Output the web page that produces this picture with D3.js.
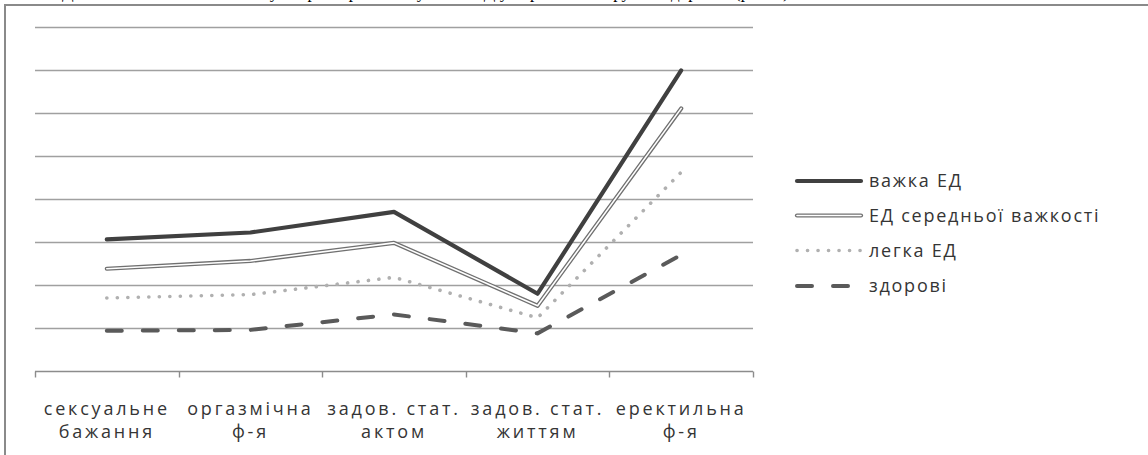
<!DOCTYPE html>
<html>
<head>
<meta charset="utf-8">
<script src="https://cdn.jsdelivr.net/npm/d3@7"></script>
<style>
  html, body { margin: 0; padding: 0; background: #fff; }
  svg { display: block; }
  .lbl { font-family: "Open Sans", sans-serif; fill: #353535; }
</style>
</head>
<body>
<svg id="chart" width="1148" height="455"></svg>
<script>
// Categories (two-line labels) and series values
const categories = ["sd", "of", "sa", "sl", "ef"];
const categoryLines = [
  ["сексуальне", "бажання"],
  ["оргазмічна", "ф-я"],
  ["задов. стат.", "актом"],
  ["задов. стат.", "життям"],
  ["еректильна", "ф-я"]
];

const seriesNames = ["важка ЕД", "ЕД середньої важкості", "легка ЕД", "здорові"];
const severe  = [15.3, 16.1, 18.5, 9.0, 34.9];
const medium  = [11.9, 12.8, 14.9, 7.6, 30.5];
const mild    = [8.5, 8.9, 10.9, 6.2, 23.1];
const healthy = [4.7, 4.8, 6.6, 4.4, 13.5];
const gridTicks = [5, 10, 15, 20, 25, 30, 35, 40];

const svg = d3.select("#chart");

// Caption line running above the frame
svg.append("text")
  .attr("x", 62).attr("y", -2)
  .attr("font-family", "'Liberation Serif', serif")
  .attr("font-size", 17)
  .attr("fill", "#000")
  .text("Динаміка показників МІФФ у хворих з різним ступенем ЕД у порівнянні з групою здорових (рис. 3)");

// Outer frame
svg.append("rect")
  .attr("x", 5).attr("y", 5)
  .attr("width", 1160).attr("height", 470)
  .attr("fill", "#fff")
  .attr("stroke", "#8a8a8a").attr("stroke-width", 2);

const x = d3.scaleBand().domain(categories).range([35, 753]);
const y = d3.scaleLinear().domain([0, 40]).range([371.3, 26.5]);

// Horizontal gridlines
svg.append("g")
  .selectAll("line")
  .data(gridTicks)
  .join("line")
  .attr("x1", 35).attr("x2", 753)
  .attr("y1", d => Math.round(y(d)) + 0.5)
  .attr("y2", d => Math.round(y(d)) + 0.5)
  .attr("stroke", "#a0a0a0").attr("stroke-width", 1.4);

// Category axis
const axisY = Math.round(y(0)) + 0.5;
svg.append("line")
  .attr("x1", 35).attr("x2", 753)
  .attr("y1", axisY).attr("y2", axisY)
  .attr("stroke", "#8c8c8c").attr("stroke-width", 1.4);
const edges = categories.map(c => x(c)).concat([x.range()[1]]);
svg.append("g").selectAll("line").data(edges).join("line")
  .attr("x1", d => Math.round(d) + 0.5).attr("x2", d => Math.round(d) + 0.5)
  .attr("y1", axisY).attr("y2", axisY + 6)
  .attr("stroke", "#8c8c8c").attr("stroke-width", 1.4);

const labels = svg.append("g").selectAll("text").data(categories).join("text")
  .attr("class", "lbl")
  .attr("text-anchor", "middle")
  .attr("font-size", 18)
  .attr("letter-spacing", 2.8);
labels.each(function(c, i) {
  const t = d3.select(this);
  const cx = x(c) + x.bandwidth() / 2;
  categoryLines[i].forEach((s, k) => {
    t.append("tspan").attr("x", cx).attr("y", 415 + k * 23).text(s);
  });
});

const line = d3.line()
  .x((d, i) => x(categories[i]) + x.bandwidth() / 2)
  .y(d => y(d));

const g = svg.append("g");
// healthy — dashed
g.append("path").attr("d", line(healthy))
  .attr("fill", "none").attr("stroke", "#5a5a5a").attr("stroke-width", 4)
  .attr("stroke-dasharray", "15 21").attr("stroke-linecap", "round");
// mild — dotted
g.append("path").attr("d", line(mild))
  .attr("fill", "none").attr("stroke", "#b0b0b0").attr("stroke-width", 3.6)
  .attr("stroke-dasharray", "0.1 10.4").attr("stroke-linecap", "round");
// moderate — double line
g.append("path").attr("d", line(medium))
  .attr("fill", "none").attr("stroke", "#707070").attr("stroke-width", 4.2)
  .attr("stroke-linecap", "round").attr("stroke-linejoin", "round");
g.append("path").attr("d", line(medium))
  .attr("fill", "none").attr("stroke", "#ffffff").attr("stroke-width", 1.6)
  .attr("stroke-linecap", "round").attr("stroke-linejoin", "round");
// severe — solid dark
g.append("path").attr("d", line(severe))
  .attr("fill", "none").attr("stroke", "#404040").attr("stroke-width", 4.2)
  .attr("stroke-linecap", "round").attr("stroke-linejoin", "round");

// Legend
const legendRows = [181, 215.5, 250.5, 286];
const lg = svg.append("g");
seriesNames.forEach((name, i) => {
  const yy = legendRows[i];
  const seg = () => lg.append("line")
    .attr("x1", 797).attr("x2", 861).attr("y1", yy).attr("y2", yy)
    .attr("stroke-linecap", "round");
  if (i === 0) {
    seg().attr("stroke", "#404040").attr("stroke-width", 4.2);
  } else if (i === 1) {
    seg().attr("stroke", "#707070").attr("stroke-width", 4.2);
    seg().attr("stroke", "#fff").attr("stroke-width", 1.6);
  } else if (i === 2) {
    seg().attr("stroke", "#b0b0b0").attr("stroke-width", 3.6)
      .attr("stroke-dasharray", "0.1 10.4");
  } else {
    seg().attr("stroke", "#5a5a5a").attr("stroke-width", 4)
      .attr("stroke-dasharray", "15 21");
  }
  lg.append("text").attr("class", "lbl")
    .attr("x", 869).attr("y", yy + 6)
    .attr("font-size", 18).attr("letter-spacing", 1.75)
    .text(name);
});
</script>
</body>
</html>
